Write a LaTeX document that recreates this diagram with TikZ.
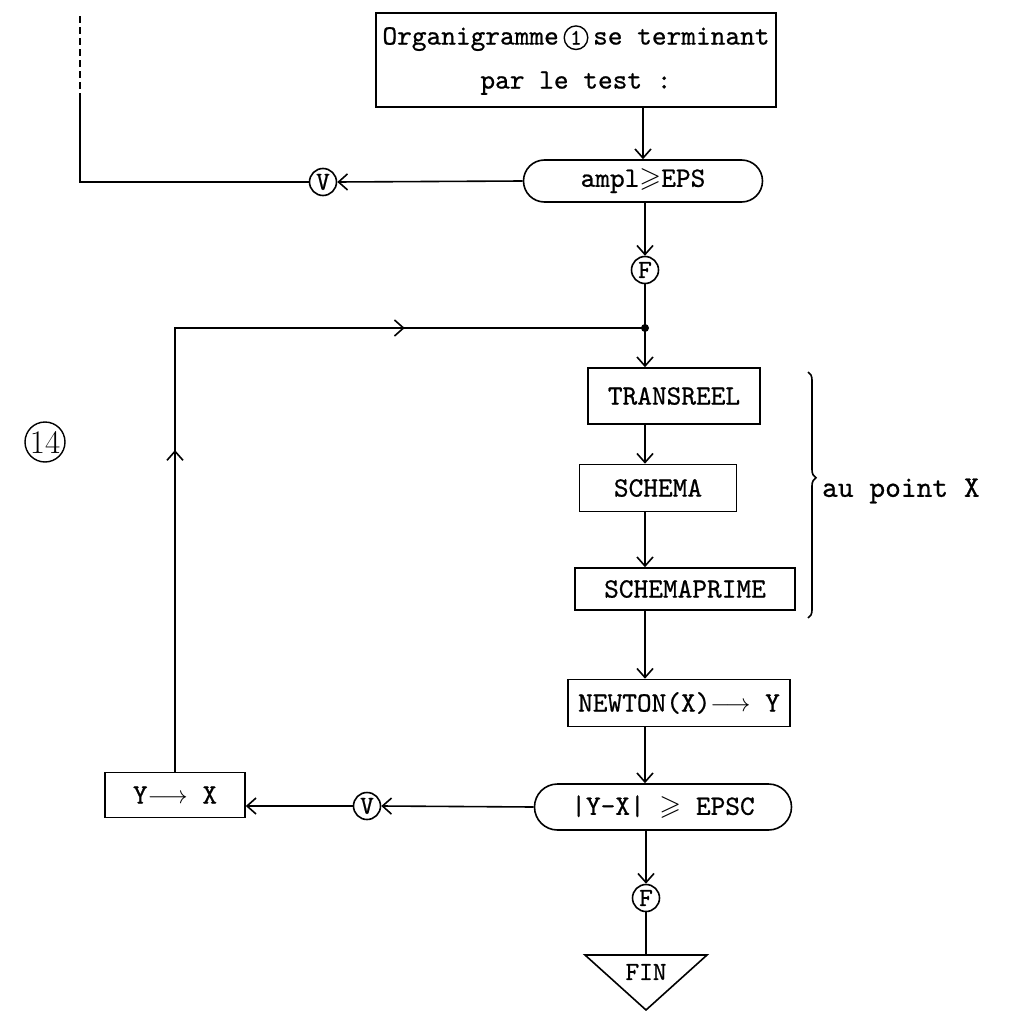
\documentclass[tikz,border=0pt]{standalone}
\usepackage{amssymb}
\usepackage{fontspec}
\newfontfamily\tw{lmmono10-regular.otf}[FakeBold=0.7]
\usetikzlibrary{arrows.meta,shapes.misc,decorations.pathreplacing,decorations.markings}
\newcommand{\circone}{\tikz[baseline=(c.base)]\node[draw,circle,inner sep=2pt,minimum width=0pt,minimum height=0pt,line width=1.4pt,font=\tw\fontsize{22}{22}\selectfont](c){1};}
\begin{document}
\begin{tikzpicture}[x=1pt,y=-1pt,line width=1.6pt,
  arr/.style={-{Straight Barb[length=9pt,width=16pt]}},
  pbox/.style={draw,rectangle,inner sep=0pt,font=\tw\fontsize{28}{30}\selectfont},
  rbox/.style={draw,rounded rectangle,inner sep=0pt,font=\tw\fontsize{28}{30}\selectfont},
  circ/.style={draw,circle,inner sep=0pt,minimum size=27pt,font=\tw\fontsize{26}{26}\selectfont},
  lbl/.style={font=\tw\fontsize{30}{30}\selectfont}]
\useasboundingbox (0,0) rectangle (1017,1011);
% nodes
\node[pbox,minimum width=400pt,minimum height=94pt,align=center,font=\tw\fontsize{28}{44}\selectfont] (top) at (576,60)
  {Organigramme\,\circone\,se terminant\\par le test :};
\node[rbox,minimum width=239pt,minimum height=42pt] (amp) at (643,181) {ampl$\geqslant$EPS};
\node[circ] (v1) at (323,182) {V};
\coordinate (c1) at (80,182);
\coordinate (dmid) at (80,100);
\coordinate (dtop) at (80,15);
\node[circ] (f1) at (645,270) {F};
\coordinate (dot) at (645,328);
\coordinate (corner) at (175,328);
\node[pbox,minimum width=172pt,minimum height=56pt] (trans) at (674,396) {TRANSREEL};
\node[pbox,minimum width=157pt,minimum height=47pt] (schema) at (658,488) {SCHEMA};
\node[pbox,minimum width=220pt,minimum height=42pt] (sprime) at (685,589) {SCHEMAPRIME};
\node[pbox,minimum width=222pt,minimum height=47pt] (newton) at (679,703) {NEWTON(X)$\longrightarrow$ Y};
\node[rbox,minimum width=257pt,minimum height=46pt] (epsc) at (663,807) {|Y-X| $\geqslant$ EPSC};
\node[circ] (v2) at (367,806) {V};
\node[pbox,minimum width=140pt,minimum height=45pt] (yx) at (175,795) {Y$\longrightarrow$ X};
\node[circ] (f2) at (646,898) {F};
\coordinate (fa) at (585,955);
\coordinate (fb) at (707,955);
\coordinate (fc) at (646,1010);
\node[font=\tw\fontsize{26}{26}\selectfont] (fin) at (646,972) {FIN};
\node[draw,circle,minimum size=40pt,inner sep=0pt,line width=1.4pt,font=\fontsize{33}{33}\selectfont] (n14) at (45,442) {14};
\node[lbl,anchor=west] (au) at (818,491) {au point X};
% connectors
\draw[arr] (amp.north |- top.south) -- (amp.north);
\draw[arr] (amp.west) -- (v1.east);
\draw (v1.west) -- (c1) -- (dmid);
\draw[dashed,dash pattern=on 7pt off 4pt] (dmid) -- (dtop);
\draw[arr] (f1 |- amp.south) -- (f1.north);
\draw (f1.south) -- (dot);
\fill (dot) circle (4pt);
\draw[arr] (dot) -- (dot |- trans.north);
\draw[arr] (dot |- trans.south) -- (dot |- schema.north);
\draw[arr] (dot |- schema.south) -- (dot |- sprime.north);
\draw[arr] (dot |- sprime.south) -- (dot |- newton.north);
\draw[arr] (dot |- newton.south) -- (dot |- epsc.north);
\draw[arr] (f2 |- epsc.south) -- (f2.north);
\draw (f2.south) -- (f2 |- fa);
\draw (fa) -- (fb) -- (fc) -- cycle;
\draw[arr] (epsc.west) -- (v2.east);
\draw[arr] (v2.west) -- (v2.west -| yx.east);
\draw[postaction={decorate},decoration={markings,
   mark=at position 0.352 with {\arrow{Straight Barb[length=9pt,width=16pt]}},
   mark=at position 0.737 with {\arrow{Straight Barb[length=9pt,width=16pt]}}}]
  (yx.north) -- (corner) -- (dot);
\draw[decorate,decoration={brace,amplitude=8pt,aspect=0.43}] (808,372) -- (808,618);
\end{tikzpicture}
\end{document}
